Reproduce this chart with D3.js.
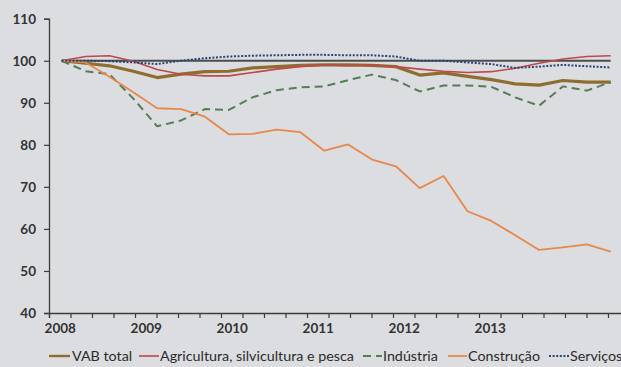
<!DOCTYPE html>
<html>
<head>
<meta charset="utf-8">
<script src="https://cdn.jsdelivr.net/npm/d3@7"></script>
<style>
  html, body { margin: 0; padding: 0; background: #dcdde0; overflow: hidden; }
  svg { display: block; font-family: Lato, "Open Sans", sans-serif; }
</style>
</head>
<body>
<svg id="chart" width="621" height="367"></svg>
<script>
// Quarterly gross value added indices (2008 T1 = 100)
const quarters = [
  "2008T1","2008T2","2008T3","2008T4","2009T1","2009T2","2009T3","2009T4",
  "2010T1","2010T2","2010T3","2010T4","2011T1","2011T2","2011T3","2011T4",
  "2012T1","2012T2","2012T3","2012T4","2013T1","2013T2","2013T3","2013T4"
];
const vabTotal    = [100, 99.4, 98.8, 97.5, 96.0, 96.8, 97.4, 97.5, 98.3, 98.6, 98.9, 99.0, 99.0, 98.9, 98.6, 96.6, 97.1, 96.3, 95.5, 94.5, 94.2, 95.3, 94.9, 94.9];
const agricultura = [100, 101.0, 101.2, 99.9, 97.9, 96.8, 96.4, 96.4, 97.2, 98.0, 98.6, 99.0, 98.8, 99.0, 98.6, 98.0, 97.5, 97.2, 97.4, 98.2, 99.4, 100.4, 101.0, 101.2];
const industria   = [100, 97.5, 96.8, 91.0, 84.4, 85.8, 88.5, 88.3, 91.3, 93.0, 93.7, 93.9, 95.4, 96.7, 95.4, 92.7, 94.1, 94.1, 93.8, 91.3, 89.3, 93.9, 92.9, 94.9];
const construcao  = [100, 99.6, 96.2, 92.5, 88.7, 88.5, 86.7, 82.5, 82.6, 83.6, 83.0, 78.6, 80.1, 76.5, 74.9, 69.7, 72.6, 64.2, 61.9, 58.5, 55.0, 55.6, 56.3, 54.6];
const servicos    = [100, 100, 99.9, 99.6, 99.2, 100.0, 100.6, 101.0, 101.2, 101.3, 101.4, 101.4, 101.3, 101.3, 101.0, 100.0, 100.0, 99.6, 99.2, 98.3, 98.6, 99.0, 98.7, 98.4];
const baseLevel   = 100;

const yTicks     = [40, 50, 60, 70, 80, 90, 100, 110];
const yearLabels = ["2008", "2009", "2010", "2011", "2012", "2013"];

const series = [
  { name: "VAB total", values: vabTotal, color: "#8d6e2f", width: 3.2, dash: null },
  { name: "Agricultura, silvicultura e pesca", values: agricultura, color: "#c0474a", width: 1.6, dash: null },
  { name: "Indústria", values: industria, color: "#567d56", width: 2, dash: "8,5" },
  { name: "Construção", values: construcao, color: "#e8874c", width: 1.8, dash: null },
  { name: "Serviços", values: servicos, color: "#2a4478", width: 2, dash: "2,1.6" }
];

const svg = d3.select("#chart");

// Layout
const axisX = 49, axisY = 313, yTop = 18.7;
const slotW = 21.5;             // one quarter slot on the category axis
const axisSlots = 28;           // 2008..2014, four slots per year

const y = d3.scaleLinear().domain([40, 110]).range([axisY, yTop]);
const xData = d3.scalePoint().domain(quarters).range([61.7, 610.7]);
const xSlot = d3.scaleLinear().domain([0, axisSlots]).range([axisX, axisX + axisSlots * slotW]);

// Y axis
const yAxis = d3.axisLeft(y).tickValues(yTicks).tickSize(5).tickPadding(8);
const gy = svg.append("g").attr("transform", `translate(${axisX},0)`).call(yAxis);
gy.select(".domain").attr("stroke", "#3c3c3c").attr("stroke-width", 1.3);
gy.selectAll(".tick line").attr("stroke", "#3c3c3c").attr("stroke-width", 1.2);
gy.selectAll(".tick text").attr("fill", "#333").attr("font-size", 13.5).attr("font-weight", 700)
  .attr("font-family", "Lato, sans-serif");

// X axis: tick marks between quarter slots, year labels under the first slot of each year
const xAxis = d3.axisBottom(xSlot).tickValues(d3.range(0, axisSlots + 1)).tickSize(5).tickFormat("");
const gx = svg.append("g").attr("transform", `translate(0,${axisY})`).call(xAxis);
gx.select(".domain").attr("stroke", "#3c3c3c").attr("stroke-width", 1.3);
gx.selectAll(".tick line").attr("stroke", "#3c3c3c").attr("stroke-width", 1.2);

const yearAxis = d3.axisBottom(xSlot)
  .tickValues(yearLabels.map((_, i) => i * 4 + 0.5))
  .tickFormat((d, i) => yearLabels[i])
  .tickSize(0).tickPadding(10);
const gyr = svg.append("g").attr("transform", `translate(0,${axisY})`).call(yearAxis);
gyr.select(".domain").remove();
gyr.selectAll(".tick text").attr("fill", "#333").attr("font-size", 13.5).attr("font-weight", 700)
  .attr("font-family", "Lato, sans-serif");

// Base-100 reference line
svg.append("line")
  .attr("x1", xData(quarters[0])).attr("x2", xData(quarters[quarters.length - 1]))
  .attr("y1", y(baseLevel)).attr("y2", y(baseLevel))
  .attr("stroke", "#4d4d4d").attr("stroke-width", 2.2);

// Series lines
const line = d3.line()
  .x((d, i) => xData(quarters[i]))
  .y(d => y(d));

series.forEach(s => {
  svg.append("path")
    .datum(s.values)
    .attr("d", line)
    .attr("fill", "none")
    .attr("stroke", s.color)
    .attr("stroke-width", s.width)
    .attr("stroke-dasharray", s.dash)
    .attr("stroke-linejoin", "round");
});

// Legend
const legendY = 356;
const legendItems = [
  { x0: 49, x1: 70, tx: 72 },
  { x0: 139, x1: 159, tx: 160 },
  { x0: 363, x1: 382, tx: 383 },
  { x0: 448, x1: 467, tx: 468 },
  { x0: 549, x1: 569, tx: 570 }
];
const lg = svg.append("g");
series.forEach((s, i) => {
  const p = legendItems[i];
  lg.append("line")
    .attr("x1", p.x0).attr("x2", p.x1)
    .attr("y1", legendY).attr("y2", legendY)
    .attr("stroke", s.color)
    .attr("stroke-width", Math.min(s.width, 2.4))
    .attr("stroke-dasharray", s.dash);
  lg.append("text")
    .attr("x", p.tx).attr("y", legendY)
    .attr("dy", "0.35em")
    .attr("font-size", 14.3)
    .attr("fill", "#2b2b2b")
    .text(s.name);
});
</script>
</body>
</html>
